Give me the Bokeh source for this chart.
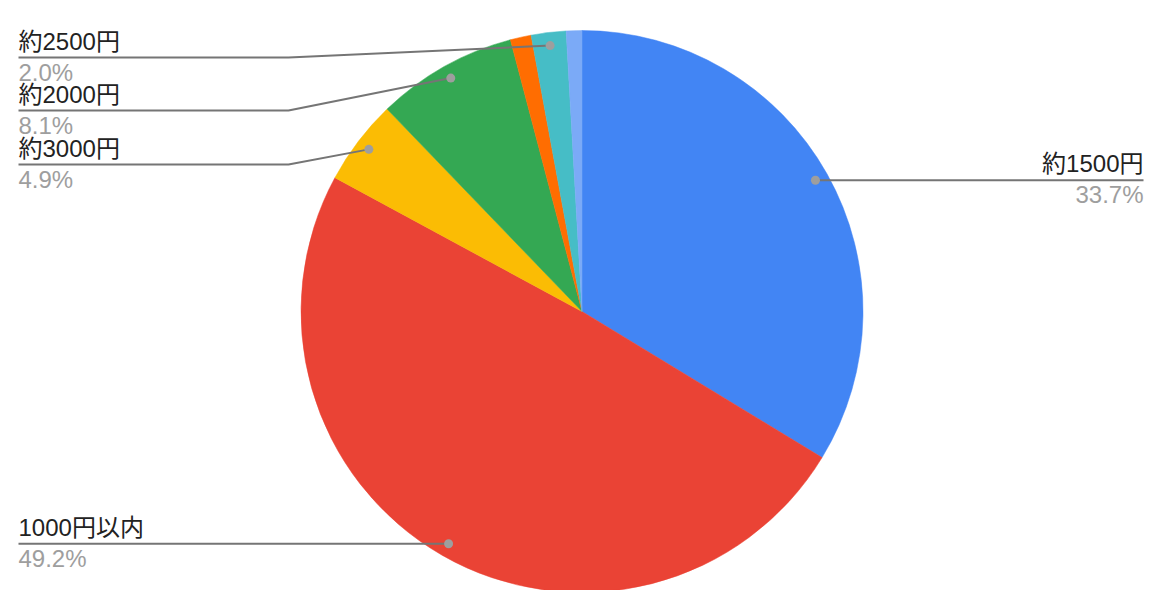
import math
from bokeh.plotting import figure
from bokeh.models import Range1d, ColumnDataSource
from bokeh.core.properties import value
from bokeh.embed import file_html
from bokeh.resources import INLINE

# ---- data (clockwise from 12 o'clock) ----
categories = ["約1500円", "1000円以内", "約3000円", "約2000円", "その他A", "約2500円", "その他B"]
shares = [33.7, 49.2, 4.9, 8.1, 1.2, 2.0, 0.9]
colors = ["#4285F4", "#EA4335", "#FBBC04", "#34A853", "#FF6D01", "#46BDC6", "#7BAAF7"]
show_label = [True, True, True, True, False, True, False]

# ---- layout (picture pixel coordinates) ----
W, H = 1154, 590
ORIGIN = 0
PAGE_H = 606
CX, CY, R = 581.5, 311.0, 281.0          # pie centre / radius in px
DOT_R = 0.953
LEFT_X, ELBOW_X, RIGHT_X = 18, 288, 1143
label_line_y = {"約3000円": 164, "約2000円": 110, "約2500円": 57}
FONT = value("Liberation Sans, Noto Sans CJK JP")
FS = "24px"


def Y(py):
    return PAGE_H - py


p = figure(width=W, height=H, output_backend="svg", toolbar_location=None,
           x_range=Range1d(ORIGIN, ORIGIN + W),
           y_range=Range1d(PAGE_H - ORIGIN - H, PAGE_H - ORIGIN),
           min_border=0)
p.axis.visible = False
p.grid.visible = False
p.outline_line_color = None
p.background_fill_color = "white"
p.border_fill_color = "white"

total = sum(shares)
cum = [0.0]
for s in shares:
    cum.append(cum[-1] + s / total)

starts = [math.pi / 2 - 2 * math.pi * cum[i + 1] for i in range(len(shares))]
ends = [math.pi / 2 - 2 * math.pi * cum[i] for i in range(len(shares))]
src = ColumnDataSource(dict(start=starts, end=ends, color=colors, cat=categories))
p.wedge(x=CX, y=Y(CY), radius=R, start_angle="start", end_angle="end",
        fill_color="color", line_color="color", line_width=0.5, source=src)

for i, cat in enumerate(categories):
    if not show_label[i]:
        continue
    mid = 2 * math.pi * (cum[i] + cum[i + 1]) / 2   # clockwise from top
    dx = R * DOT_R * math.sin(mid)
    dy = R * DOT_R * math.cos(mid)
    dot_x, dot_y = CX + dx, CY - dy
    pct = f"{shares[i] / total * 100:.1f}%"
    if dx > 0:
        ly = dot_y
        p.line([dot_x, RIGHT_X], [Y(ly), Y(ly)], line_color="#757575", line_width=2)
        tx, align = RIGHT_X, "right"
    else:
        ly = label_line_y.get(cat, dot_y)
        if cat in label_line_y:
            xs = [LEFT_X, ELBOW_X, dot_x]
            ys = [Y(ly), Y(ly), Y(dot_y)]
        else:
            xs = [LEFT_X, dot_x]
            ys = [Y(ly), Y(ly)]
        p.line(xs, ys, line_color="#757575", line_width=2)
        tx, align = LEFT_X, "left"
    p.scatter([dot_x], [Y(dot_y)], size=9, fill_color="#9e9e9e", line_color=None)
    p.text([tx], [Y(ly) + 3], text=[cat], text_align=align, text_baseline="bottom",
           text_font=FONT, text_font_size=FS, text_color="#222222")
    p.text([tx], [Y(ly) - 1], text=[pct], text_align=align, text_baseline="top",
           text_font=FONT, text_font_size=FS, text_color="#9e9e9e")

open("out.html", "w").write(file_html(p, INLINE))
